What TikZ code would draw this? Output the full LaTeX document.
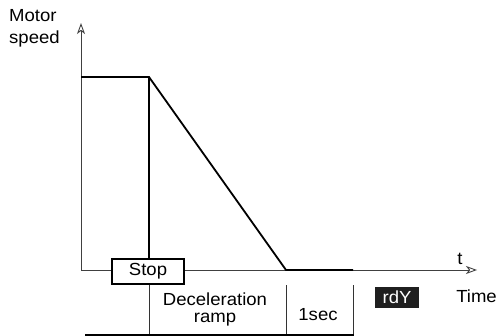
\documentclass[tikz,border=0pt]{standalone}
\usepackage{fontspec}
\setmainfont{Liberation Sans}
\usetikzlibrary{arrows.meta}
\newcommand{\wtxt}[1]{\scalebox{1.06}[1]{#1}}
\tikzset{
  lbl/.style={inner sep=0pt, font=\fontsize{17.5}{19}\selectfont},
  axis/.style={line width=0.9pt, draw=black!75, -{Stealth[open, length=11pt, width=8pt, inset=3pt]}},
  thick curve/.style={line width=1.8pt},
  boxline/.style={line width=1.3pt},
  thinline/.style={line width=1pt, draw=black!80}
}
\begin{document}
\begin{tikzpicture}[x=1pt,y=-1pt]
\useasboundingbox (0,0) rectangle (497,336);
% coordinates
\coordinate (O) at (81,270);
\coordinate (ytip) at (81,23);
\coordinate (xtip) at (477,270);
\coordinate (p0) at (81,77);
\coordinate (p1) at (149,77);
\coordinate (p2) at (286,270);
\coordinate (p3) at (353,270);
% axes
\draw[axis] (O) -- (ytip);
\draw[axis] (O) -- (xtip);
% speed curve
\draw[thick curve, line join=miter] (p0) -- (p1) -- (p2) -- (p3);
\draw[thick curve] (p1) -- (149,259);
% stop box
\node[lbl, draw, boxline, fill=white, minimum width=72pt, minimum height=25pt, anchor=center] (stop) at (148,271.5) {\wtxt{Stop}};
% lower region lines
\coordinate (bl) at (85,335);
\coordinate (br) at (353.5,335);
\draw[thinline] (stop.south -| 149,0) -- (149,335);
\draw[thinline] (286,285) -- (286,335);
\draw[thinline] (353,285) -- (353,335);
\draw[thick curve, line width=1.4pt] (bl) -- (br);
% labels
\node[lbl] (decel) at (215,299) {\wtxt{Deceleration}};
\node[lbl] (ramp) at (215,320) {\wtxt{ramp}};
\node[lbl] (onesec) at (318,315) {\wtxt{1sec}};
\node[lbl, fill=black!88, text=white, minimum width=44pt, minimum height=21pt] (rdy) at (397,297.5) {\wtxt{rdY}};
\node[lbl, anchor=base west] (motor) at (9,22) {\wtxt{Motor}};
\node[lbl, anchor=base west] (speed) at (9,44) {\wtxt{speed}};
\node[lbl] (t) at (460,259) {\wtxt{t}};
\node[lbl, anchor=east] (time) at (497,296) {\wtxt{Time}};
\end{tikzpicture}
\end{document}
